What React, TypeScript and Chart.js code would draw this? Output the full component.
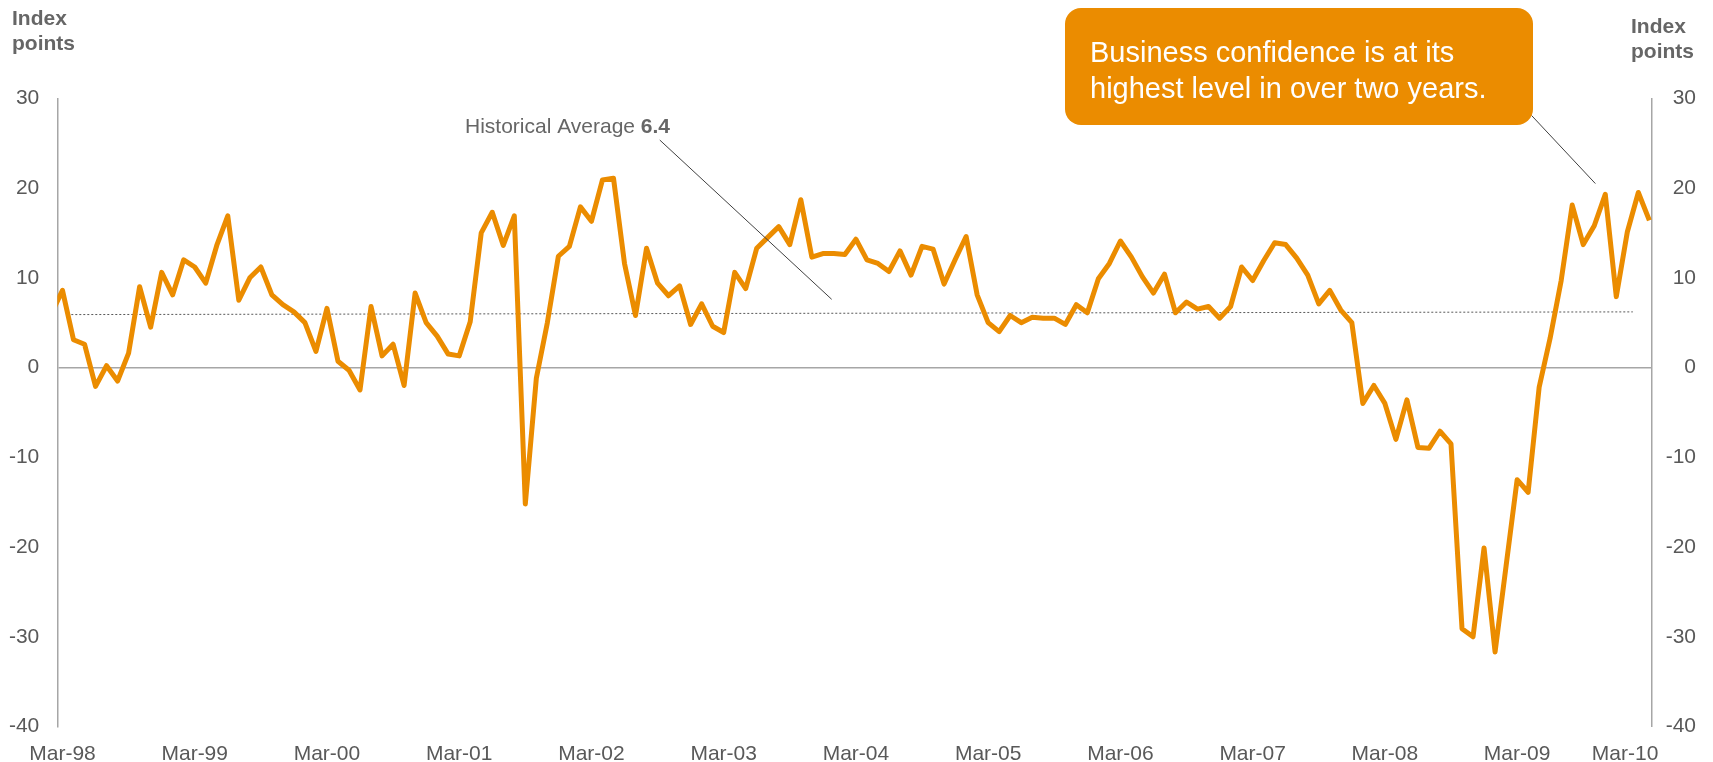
import React, { useEffect, useRef } from 'react';
import { Chart, registerables } from 'chart.js';

Chart.register(...registerables);

const FONT = 'Arial, "Liberation Sans", sans-serif';

// X-axis tick labels and the month index (0 = Mar-98) at which each one sits
const tickLabels = ['Mar-98', 'Mar-99', 'Mar-00', 'Mar-01', 'Mar-02', 'Mar-03', 'Mar-04', 'Mar-05', 'Mar-06', 'Mar-07', 'Mar-08', 'Mar-09', 'Mar-10'];
const tickMonths = [0, 12, 24, 36, 48, 60, 72, 84, 96, 108, 120, 132, 141.8];

// Monthly business confidence, Feb-98 (month -1) to Mar-10 (month 144)
const firstMonth = -1;
const confidence = [
  6.0,
  8.6, 3.1, 2.6, -2.1, 0.2, -1.5, 1.6, 9.0, 4.5, 10.6, 8.1, 12.0,
  11.2, 9.4, 13.6, 16.9, 7.5, 10.0, 11.2, 8.1, 7.0, 6.2, 5.0, 1.8,
  6.6, 0.7, -0.3, -2.5, 6.8, 1.3, 2.6, -2.0, 8.3, 5.0, 3.5, 1.5,
  1.3, 5.1, 15.0, 17.3, 13.6, 16.9, -15.2, -1.2, 5.0, 12.4, 13.5, 17.9,
  16.3, 20.9, 21.1, 11.6, 5.8, 13.3, 9.4, 8.0, 9.1, 4.8, 7.1, 4.6,
  3.9, 10.6, 8.8, 13.3, 14.5, 15.7, 13.7, 18.7, 12.3, 12.7, 12.7, 12.6,
  14.3, 12.0, 11.6, 10.7, 13.0, 10.3, 13.5, 13.2, 9.3, 12.0, 14.6, 8.1,
  5.0, 4.0, 5.8, 5.0, 5.6, 5.5, 5.5, 4.8, 7.0, 6.1, 9.9, 11.6,
  14.1, 12.3, 10.1, 8.3, 10.4, 6.1, 7.3, 6.5, 6.8, 5.5, 6.8, 11.2,
  9.7, 11.9, 13.9, 13.7, 12.2, 10.3, 7.1, 8.6, 6.4, 5.0, -4.0, -2.0,
  -4.0, -8.0, -3.6, -8.9, -9.0, -7.1, -8.5, -29.1, -30.0, -20.1, -31.7, -22.1,
  -12.5, -13.9, -2.2, 3.3, 9.7, 18.1, 13.7, 15.8, 19.3, 7.9, 15.1, 19.5, 16.4,
];

// Historical average reference line (as drawn)
const averageMonths = [0.8, 142.5];
const averageValues = [5.9, 6.2];

// Leader lines (month, value) for the two annotations
const avgLeaderMonths = [54.2, 69.8];
const avgLeaderValues = [25.35, 7.6];
const calloutLeaderMonths = [133.3, 139.1];
const calloutLeaderValues = [28.1, 20.5];

const TEXT_GREY = '#595959';
const TITLE_GREY = '#666666';
const AXIS_GREY = '#A6A6A6';
const ORANGE = '#EB8C00';

const overlayPlugin = {
  id: 'overlay',
  afterDraw(chart: any) {
    const { ctx } = chart;
    const xs = chart.scales.x;
    const ys = chart.scales.y;
    ctx.save();

    // Axis titles
    ctx.fillStyle = TITLE_GREY;
    ctx.textAlign = 'left';
    ctx.textBaseline = 'alphabetic';
    ctx.font = `bold 21px ${FONT}`;
    ctx.fillText('Index', 12, 25);
    ctx.fillText('points', 12, 49.5);
    ctx.fillText('Index', 1631, 33);
    ctx.fillText('points', 1631, 57.5);

    // Historical average label
    ctx.font = `21px ${FONT}`;
    const part1 = 'Historical Average ';
    ctx.fillText(part1, 465, 133);
    const w = ctx.measureText(part1).width;
    ctx.font = `bold 21px ${FONT}`;
    ctx.fillText('6.4', 465 + w, 133);

    // Leader lines
    ctx.strokeStyle = '#404040';
    ctx.lineWidth = 1;
    const leader = (ms: number[], vs: number[]) => {
      ctx.beginPath();
      ctx.moveTo(xs.getPixelForValue(ms[0]), ys.getPixelForValue(vs[0]));
      ctx.lineTo(xs.getPixelForValue(ms[1]), ys.getPixelForValue(vs[1]));
      ctx.stroke();
    };
    leader(avgLeaderMonths, avgLeaderValues);
    leader(calloutLeaderMonths, calloutLeaderValues);

    // Callout box
    ctx.fillStyle = ORANGE;
    ctx.beginPath();
    ctx.roundRect(1065, 8, 468, 117, 16);
    ctx.fill();
    ctx.fillStyle = '#FFFFFF';
    ctx.font = `29px ${FONT}`;
    ctx.fillText('Business confidence is at its', 1090, 62);
    ctx.fillText('highest level in over two years.', 1090, 98);

    ctx.restore();
  },
};

export default function App() {
  const ref = useRef<HTMLCanvasElement>(null);

  useEffect(() => {
    Chart.defaults.font.family = FONT;
    const lineData = confidence.map((v, k) => ({ x: k + firstMonth, y: v }));
    const avgData = averageMonths.map((m, k) => ({ x: m, y: averageValues[k] }));
    const tickFont = { size: 21, family: FONT };

    const chart = new Chart(ref.current as HTMLCanvasElement, {
      type: 'line',
      data: {
        datasets: [
          {
            label: 'Business confidence',
            data: lineData,
            borderColor: ORANGE,
            borderWidth: 5,
            pointRadius: 0,
            tension: 0,
            borderJoinStyle: 'round',
            clip: 0,
            xAxisID: 'x',
            yAxisID: 'y',
          } as any,
          {
            label: 'Historical Average',
            data: avgData,
            borderColor: '#595959',
            borderWidth: 1,
            borderDash: [2, 2],
            pointRadius: 0,
            xAxisID: 'x',
            yAxisID: 'y',
          } as any,
        ],
      },
      options: {
        responsive: false,
        animation: false,
        layout: { padding: { top: 98.3, right: 17, left: 0, bottom: 0 } },
        plugins: { legend: { display: false }, tooltip: { enabled: false } },
        scales: {
          x: {
            type: 'linear',
            min: -0.47,
            max: 144.24,
            afterBuildTicks: (scale: any) => {
              scale.ticks = tickMonths.map((v) => ({ value: v }));
            },
            afterFit: (scale: any) => {
              scale.height = 35.5;
            },
            grid: { display: false, drawTicks: false },
            border: { display: false },
            ticks: {
              autoSkip: false,
              maxRotation: 0,
              padding: 15,
              color: TEXT_GREY,
              font: tickFont,
              callback: (_v: any, i: number) => tickLabels[i],
            },
          },
          y: {
            position: 'left',
            min: -40,
            max: 30,
            afterFit: (scale: any) => {
              scale.width = 57.3;
            },
            ticks: { stepSize: 10, padding: 18, color: TEXT_GREY, font: tickFont },
            grid: {
              drawTicks: false,
              color: (c: any) => (c.tick && c.tick.value === 0 ? AXIS_GREY : 'rgba(0,0,0,0)'),
              lineWidth: 1.5,
            },
            border: { display: true, color: AXIS_GREY, width: 1.5 },
          },
          y2: {
            position: 'right',
            min: -40,
            max: 30,
            afterFit: (scale: any) => {
              scale.width = 44;
            },
            ticks: { stepSize: 10, crossAlign: 'far', color: TEXT_GREY, font: tickFont },
            grid: { display: false, drawTicks: false },
            border: { display: true, color: AXIS_GREY, width: 1.5 },
          },
        },
      } as any,
      plugins: [overlayPlugin],
    });
    return () => chart.destroy();
  }, []);

  return (
    <div style={{ position: 'fixed', left: 0, top: 0, width: '1713px', height: '762px', background: '#ffffff' }}>
      <canvas ref={ref} width={1713} height={762} style={{ display: 'block' }} />
    </div>
  );
}
